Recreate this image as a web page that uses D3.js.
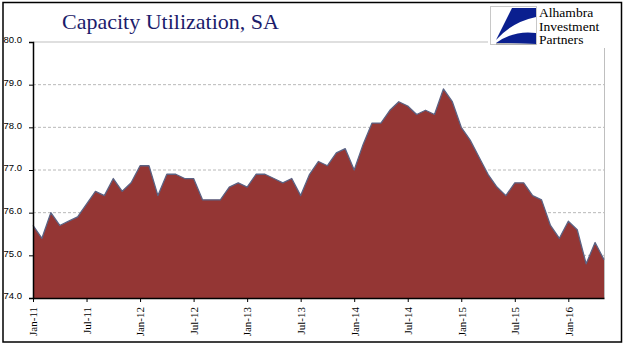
<!DOCTYPE html>
<html><head><meta charset="utf-8">
<script src="https://cdn.jsdelivr.net/npm/d3@7"></script>
<style>html,body{margin:0;padding:0;background:#fff;}svg{display:block;}</style>
</head><body>
<svg id="c" width="641" height="358"></svg>
<script>
const months = ["Jan","Feb","Mar","Apr","May","Jun","Jul","Aug","Sep","Oct","Nov","Dec"];
const years = ["11","12","13","14","15","16"];
const values = [
 75.7,75.4,76.0,75.7,75.8,75.9,76.2,76.5,76.4,76.8,76.5,76.7,
 77.1,77.1,76.4,76.9,76.9,76.8,76.8,76.3,76.3,76.3,76.6,76.7,
 76.6,76.9,76.9,76.8,76.7,76.8,76.4,76.9,77.2,77.1,77.4,77.5,
 77.0,77.6,78.1,78.1,78.4,78.6,78.5,78.3,78.4,78.3,78.9,78.6,
 78.0,77.7,77.3,76.9,76.6,76.4,76.7,76.7,76.4,76.3,75.7,75.4,
 75.8,75.6,74.8,75.3,74.9
];
const categories = values.map((v,i)=>months[i%12]+"-"+years[Math.floor(i/12)]);
const tickLabels = categories.filter((c,i)=>i%6===0);
const yTicks = [74,75,76,77,78,79,80];

const svg = d3.select("#c");
const L=33, R=604, T=42, B=298;
const x = d3.scalePoint().domain(categories).range([L,R]);
const y = d3.scaleLinear().domain([74,80]).range([B,T]);

// outer frame
svg.append("rect").attr("x",3).attr("y",2.5).attr("width",618.5).attr("height",339.5)
  .attr("fill","#fff").attr("stroke","#000").attr("stroke-width",1.5);

// gridlines
svg.append("g").selectAll("line").data(yTicks.filter(t=>t>74&&t<80)).join("line")
  .attr("x1",L).attr("x2",R).attr("y1",d=>y(d)).attr("y2",d=>y(d))
  .attr("stroke","#a6a6a6").attr("stroke-width",0.8).attr("stroke-dasharray","3,2");
svg.append("line").attr("x1",L).attr("x2",R).attr("y1",y(80)).attr("y2",y(80))
  .attr("stroke","#bfbfbf").attr("stroke-width",1);
svg.append("line").attr("x1",R+0.5).attr("x2",R+0.5).attr("y1",y(80)).attr("y2",B)
  .attr("stroke","#bfbfbf").attr("stroke-width",1);

// area
const area = d3.area().x(d=>x(d.c)).y0(y(74)).y1(d=>y(d.v));
const line = d3.line().x(d=>x(d.c)).y(d=>y(d.v));
const data = values.map((v,i)=>({c:categories[i],v}));
svg.append("path").datum(data).attr("d",area).attr("fill","#943634");
svg.append("path").datum(data).attr("d",line).attr("fill","none")
  .attr("stroke","#5b6283").attr("stroke-width",1.3).attr("stroke-linejoin","round");

// y axis
const ya = svg.append("g").attr("transform",`translate(${L},0)`)
  .call(d3.axisLeft(y).tickValues(yTicks).tickFormat(d3.format(".1f")).tickSize(4).tickPadding(7));
ya.select(".domain").attr("stroke","#000").attr("stroke-width",1.5);
ya.selectAll(".tick line").attr("stroke","#000");
ya.selectAll("text").attr("font-family","Liberation Sans, Arial, sans-serif").attr("font-size","9.5px")
  .attr("fill","#000").attr("x",-11).attr("dy","0.1em");

// x axis
const xa = svg.append("g").attr("transform",`translate(0,${B})`)
  .call(d3.axisBottom(x).tickValues(tickLabels).tickSize(4).tickSizeOuter(0));
xa.select(".domain").attr("stroke","#000").attr("stroke-width",1.5);
xa.selectAll(".tick line").attr("stroke","#000");
xa.selectAll("text").attr("font-family","Liberation Serif, Times New Roman, serif").attr("font-size","11px")
  .attr("fill","#000").attr("transform","rotate(-90)").attr("text-anchor","end")
  .attr("x",-9).attr("y",0).attr("dy","0.35em");

// title
svg.append("text").attr("x",62).attr("y",28.5).text("Capacity Utilization, SA")
  .attr("font-family","Liberation Serif, Times New Roman, serif").attr("font-size","22px").attr("fill","#1c1c6b");

// logo
const lg = svg.append("g");
lg.append("rect").attr("x",488).attr("y",4).attr("width",132).attr("height",44).attr("fill","#fff");
lg.append("rect").attr("x",490.5).attr("y",6.5).attr("width",46).attr("height",38).attr("fill","#fff").attr("stroke","#c8c8c8").attr("stroke-width",1);
lg.append("path").attr("d","M512,8 L536,8 L536,17 Q512,22 496,40 Z").attr("fill","#0a1f8f");
lg.append("path").attr("d","M496,43 Q514,30 536,33 L536,44 Z").attr("fill","#0a1f8f");
lg.append("path").attr("d","M496,43 L536,44 L536,45 L496,45 Z").attr("fill","#b0b0b0");
const lt = ["Alhambra","Investment","Partners"];
lg.selectAll("text.l").data(lt).join("text").attr("class","l")
  .attr("transform",(d,i)=>`translate(539,${17+i*13.5}) scale(1.13,1)`).text(d=>d)
  .attr("font-family","Liberation Serif, Times New Roman, serif").attr("font-size","12px")
  .attr("fill","#000");
</script>
</body></html>
